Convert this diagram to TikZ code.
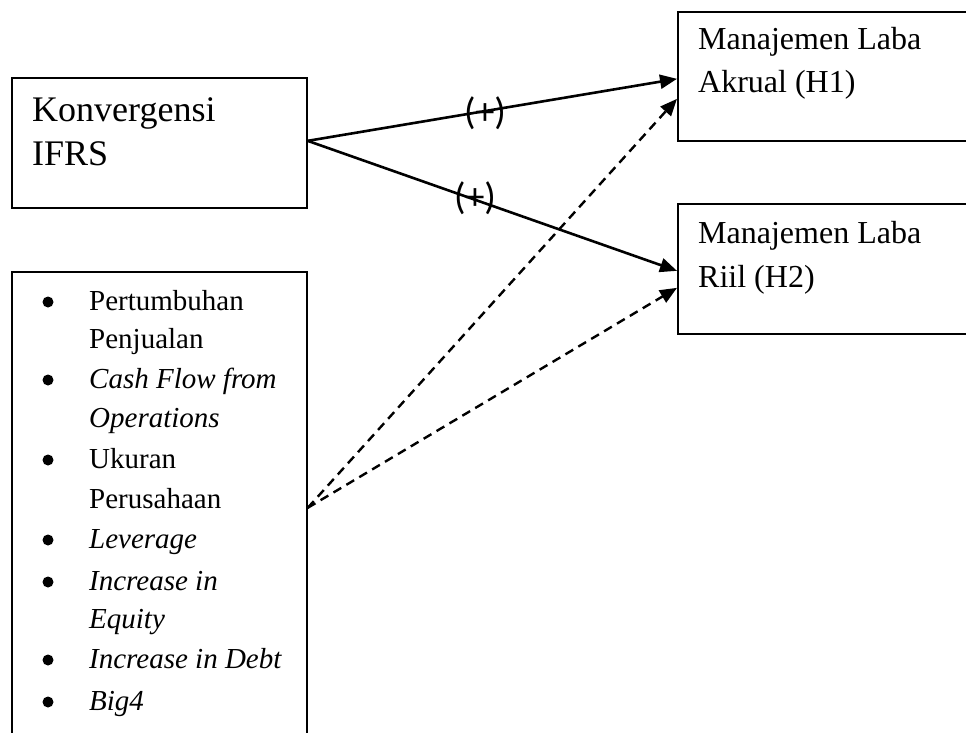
\documentclass[tikz,border=0pt]{standalone}
\usepackage{fontspec}
\setmainfont{Liberation Serif}
\newfontfamily\plusfont{Carlito}
\usetikzlibrary{arrows.meta,calc}
\tikzset{
  boxstyle/.style={draw=black, line width=1.7pt, rectangle, inner sep=0pt},
  bigtxt/.style={anchor=base west, inner sep=0pt, font=\fontsize{36}{43}\selectfont},
  midtxt/.style={anchor=base west, inner sep=0pt, font=\fontsize{32}{43}\selectfont},
  listtxt/.style={anchor=base west, inner sep=0pt, font=\fontsize{29}{40}\selectfont},
  listit/.style={listtxt, font=\fontsize{29}{40}\selectfont\itshape},
  bul/.style={circle, fill=black, inner sep=0pt, minimum size=11pt},
  solidarrow/.style={line width=2.6pt, -{Triangle[length=17pt,width=14pt]}},
  dasharrow/.style={line width=2.4pt, dash pattern=on 9pt off 6pt, -{Triangle[length=17pt,width=14pt]}},
  plus/.style={inner sep=0pt, font=\plusfont\fontsize{38}{44}\selectfont}
}
\begin{document}
\begin{tikzpicture}[x=1pt,y=-1pt]
\useasboundingbox (0,0) rectangle (966,733);
\clip (0,0) rectangle (966,733);
% boxes
\node[boxstyle, minimum width=295pt, minimum height=130pt, anchor=north west] (A) at (11,77) {};
\node[boxstyle, minimum width=295pt, minimum height=476pt, anchor=north west] (B) at (11,271) {};
\node[boxstyle, minimum width=300pt, minimum height=129pt, anchor=north west] (C) at (677,11) {};
\node[boxstyle, minimum width=300pt, minimum height=130pt, anchor=north west] (D) at (677,203) {};
% texts
\node[bigtxt] (a1) at (32,122) {Konvergensi};
\node[bigtxt] (a2) at (32,165) {IFRS};
\node[midtxt] (c1) at (698,50) {Manajemen Laba};
\node[midtxt] (c2) at (698,93) {Akrual (H1)};
\node[midtxt] (d1) at (698,243) {Manajemen Laba};
\node[midtxt] (d2) at (698,287) {Riil (H2)};
% list
\node[bul] (b1) at (48,302) {};
\node[listtxt] (l1) at (89,310) {Pertumbuhan};
\node[listtxt] (l2) at (89,348) {Penjualan};
\node[bul] (b2) at (48,380) {};
\node[listit] (l3) at (89,388) {Cash Flow from};
\node[listit] (l4) at (89,427) {Operations};
\node[bul] (b3) at (48,460) {};
\node[listtxt] (l5) at (89,468) {Ukuran};
\node[listtxt] (l6) at (89,508) {Perusahaan};
\node[bul] (b4) at (48,540) {};
\node[listit] (l7) at (89,548) {Leverage};
\node[bul] (b5) at (48,582) {};
\node[listit] (l8) at (89,590) {Increase in};
\node[listit] (l9) at (89,628) {Equity};
\node[bul] (b6) at (48,660) {};
\node[listit] (l10) at (89,668) {Increase in Debt};
\node[bul] (b7) at (48,702) {};
\node[listit] (l11) at (89,710) {Big4};
% connector endpoints
\coordinate (As) at ($(A.east)+(0,-2)$);
\coordinate (Bs) at ($(B.east)+(0,-2)$);
\coordinate (C1) at ($(C.west)+(0,2.5)$);
\coordinate (C2) at ($(C.west)+(0,22.5)$);
\coordinate (D1) at ($(D.west)+(0,2)$);
\coordinate (D2) at ($(D.west)+(0,19)$);
% arrows
\draw[solidarrow] (As) -- (C1);
\draw[solidarrow] (As) -- (D1);
\draw[dasharrow] (Bs) -- (C2);
\draw[dasharrow] (Bs) -- (D2);
% labels
\node[plus] (p1) at (485,113) {(+)};
\node[plus] (p2) at (475,198) {(+)};
\end{tikzpicture}
\end{document}
